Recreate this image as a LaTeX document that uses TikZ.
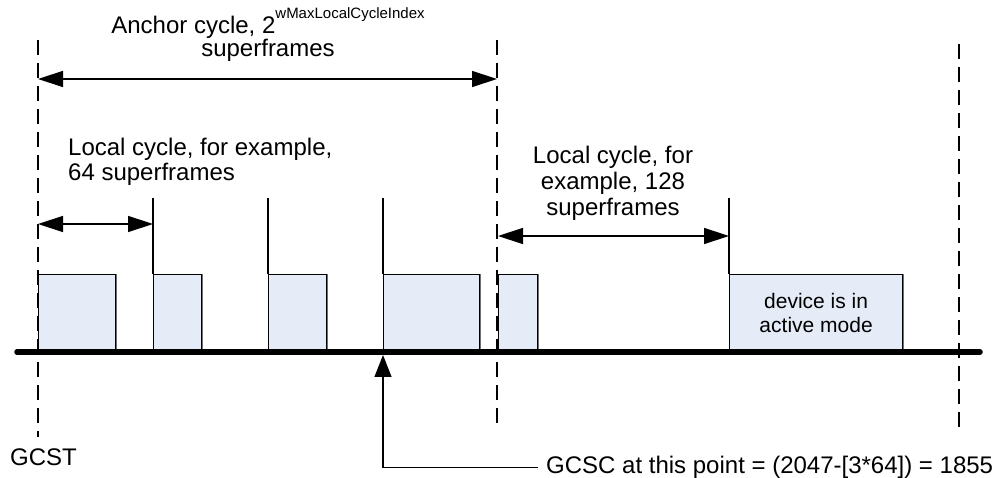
\documentclass[tikz,border=0pt]{standalone}
\usepackage{fontspec}
\setmainfont{Liberation Sans}
\usetikzlibrary{arrows.meta}
\definecolor{slotfill}{RGB}{230,236,247}
\definecolor{edgegray}{RGB}{110,110,110}
\begin{document}
\begin{tikzpicture}[x=1pt,y=-1pt,
  dimline/.style={{Triangle[length=25pt,width=16pt]}-{Triangle[length=25pt,width=16pt]}, line width=1.4pt},
  guide/.style={line width=1.3pt, dash pattern=on 15pt off 8pt},
  tick/.style={line width=1.4pt},
  slot/.style={draw=black, line width=1.2pt, fill=slotfill, inner sep=0pt,
    anchor=south west, minimum height=77pt},
  lbl/.style={inner sep=0pt, font=\fontsize{24}{25}\selectfont},
]
\useasboundingbox (0,0) rectangle (997,478);

% dashed cycle boundaries
\coordinate (g1a) at (38,40);  \coordinate (g1b) at (38,437);
\coordinate (g2a) at (497,40); \coordinate (g2b) at (497,423);
\coordinate (g3a) at (959,44); \coordinate (g3b) at (959,427);
\draw[guide] (g1a) -- (g1b);
\draw[guide] (g2a) -- (g2b);
\draw[guide] (g3a) -- (g3b);

% active periods
\node[slot, minimum width=77pt]  (s1) at (38,352)  {};
\node[slot, minimum width=48pt]  (s2) at (153,352) {};
\node[slot, minimum width=58pt]  (s3) at (268,352) {};
\node[slot, minimum width=96pt]  (s4) at (383,352) {};
\node[slot, minimum width=39pt]  (s5) at (498,352) {};
\node[slot, minimum width=173pt, align=center, font=\fontsize{21}{24}\selectfont]
  (s6) at (729,352) {device is in\\active mode};
\foreach \s in {s1,s2,s3,s4,s5,s6}
  \draw[edgegray, line width=1.2pt] (\s.north east) -- (\s.south east);

% local cycle starts
\coordinate (t1) at (153,198);
\coordinate (t2) at (268,198);
\coordinate (t3) at (383,198);
\coordinate (t4) at (729,198);
\draw[tick] (t1) -- (s2.north west);
\draw[tick] (t2) -- (s3.north west);
\draw[tick] (t3) -- (s4.north west);
\draw[tick] (t4) -- (s6.north west);

% time axis
\coordinate (tl0) at (17,352);
\coordinate (tl1) at (980,352);
\draw[line width=5.5pt, line cap=round] (tl0) -- (tl1);

% cycle lengths
\coordinate (a0) at (38,79);   \coordinate (a1) at (497,79);
\coordinate (b0) at (38,224);  \coordinate (b1) at (153,224);
\coordinate (c0) at (498,236); \coordinate (c1) at (729,236);
\draw[dimline] (a0) -- (a1);
\draw[dimline] (b0) -- (b1);
\draw[dimline] (c0) -- (c1);

\node[lbl, anchor=north, align=center, font=\fontsize{24}{23}\selectfont]
  (anchorlbl) at (268,7)
  {Anchor cycle, 2\raisebox{15pt}{\fontsize{15}{15}\selectfont wMaxLocalCycleIndex}\\superframes};
\node[lbl, anchor=north west, align=left] (loc64) at (68,137.5)
  {Local cycle, for example,\\64 superframes};
\node[lbl, anchor=north, align=center, font=\fontsize{24}{26}\selectfont]
  (loc128) at (613,145.5) {Local cycle, for\\example, 128\\superframes};

\node[lbl, anchor=base west] (gcst) at (10,465) {GCST};

% current counter value
\node[lbl, anchor=base west] (gcsc) at (546,474) {GCSC at this point = (2047-[3*64]) = 1855};
\coordinate (gtip) at (383,355);
\draw[line width=1.3pt, -{Triangle[length=22pt,width=17pt]}] ([xshift=-8pt]gcsc.west) -| (gtip);
\end{tikzpicture}
\end{document}
